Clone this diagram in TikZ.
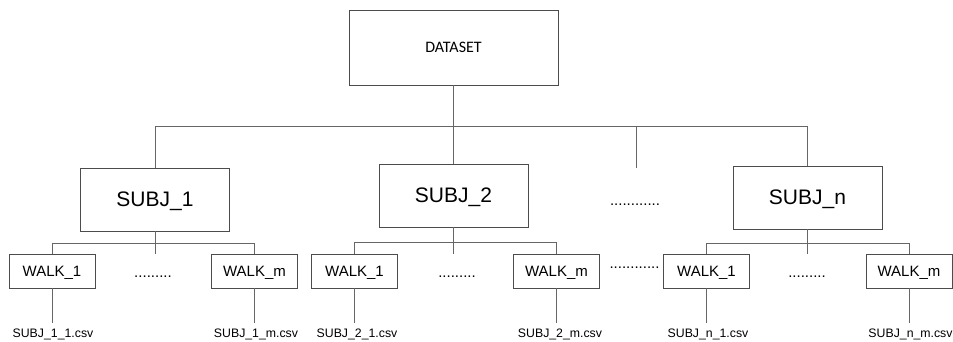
\documentclass[tikz,border=0pt]{standalone}
\usepackage{fontspec}
\setmainfont{Liberation Sans}
\newfontfamily\calib{Carlito}
\begin{document}
\begin{tikzpicture}[x=1pt,y=-1pt,
  box/.style={draw=black!70, line width=0.8pt, inner sep=0pt, text depth=0pt},
  topbox/.style={box, minimum width=209pt, minimum height=75pt, font=\calib\fontsize{16}{16}\selectfont},
  subjbox/.style={box, minimum width=149pt, minimum height=63pt, font=\fontsize{21}{21}\selectfont},
  walkbox/.style={box, minimum width=86pt, minimum height=34pt, font=\fontsize{15}{15}\selectfont},
  dotstxt/.style={inner sep=0pt, anchor=base, font=\fontsize{15}{15}\selectfont},
  csv/.style={anchor=base, inner xsep=0pt, inner ysep=5.5pt, font=\fontsize{12.3}{12.3}\selectfont},
  conn/.style={draw=black!60, line width=0.8pt}]
\useasboundingbox (0,0) rectangle (953,342);
% top
\node[topbox] (ds) at (453.5,47.5) {DATASET};
\node[subjbox] (s1) at (155,199.5) {SUBJ\_1};
\node[subjbox] (s2) at (453.5,195.5) {SUBJ\_2};
\node[subjbox] (sn) at (807.5,197.5) {SUBJ\_n};
\coordinate (j0) at (453.5,126);
\coordinate (stub) at (636,168);
\node[dotstxt] (dtop) at (635,205) {............};
\draw[conn] (ds.south) -- (s2.north);
\draw[conn] (s1.north) -- (s1.north |- j0) -- (sn.north |- j0) -- (sn.north);
\draw[conn] (stub |- j0) -- (stub);
% walks
\node[walkbox] (w1a) at (52,271) {WALK\_1};
\node[walkbox] (wma) at (254.5,271) {WALK\_m};
\node[walkbox] (w1b) at (354.5,271) {WALK\_1};
\node[walkbox] (wmb) at (556.5,271) {WALK\_m};
\node[walkbox] (w1n) at (706.5,271) {WALK\_1};
\node[walkbox] (wmn) at (909,271) {WALK\_m};
\node[dotstxt] (da) at (153,277) {.........};
\node[dotstxt] (db) at (457,277) {.........};
\node[dotstxt] (dn) at (807,277) {.........};
\node[dotstxt] (dmid) at (634.5,268) {............};
\coordinate (j1) at (0,243);
\coordinate (j2) at (0,242);
\coordinate (jn) at (0,243);
\draw[conn] (s1.south) -- (s1.south |- w1a.north);
\draw[conn] (w1a.north) -- (w1a.north |- j1) -- (wma.north |- j1) -- (wma.north);
\draw[conn] (s2.south) -- (s2.south |- w1b.north);
\draw[conn] (w1b.north) -- (w1b.north |- j2) -- (wmb.north |- j2) -- (wmb.north);
\draw[conn] (sn.south) -- (sn.south |- w1n.north);
\draw[conn] (w1n.north) -- (w1n.north |- jn) -- (wmn.north |- jn) -- (wmn.north);
% csv
\node[csv] (la) at (53,337) {SUBJ\_1\_1.csv};
\node[csv] (lma) at (256,337) {SUBJ\_1\_m.csv};
\node[csv] (lb) at (357,337) {SUBJ\_2\_1.csv};
\node[csv] (lmb) at (560,337) {SUBJ\_2\_m.csv};
\node[csv] (ln) at (708,337) {SUBJ\_n\_1.csv};
\node[csv] (lmn) at (910.5,337) {SUBJ\_n\_m.csv};
\draw[conn] (w1a.south) -- (w1a.south |- la.north);
\draw[conn] (wma.south) -- (wma.south |- lma.north);
\draw[conn] (w1b.south) -- (w1b.south |- lb.north);
\draw[conn] (wmb.south) -- (wmb.south |- lmb.north);
\draw[conn] (w1n.south) -- (w1n.south |- ln.north);
\draw[conn] (wmn.south) -- (wmn.south |- lmn.north);
\end{tikzpicture}
\end{document}
